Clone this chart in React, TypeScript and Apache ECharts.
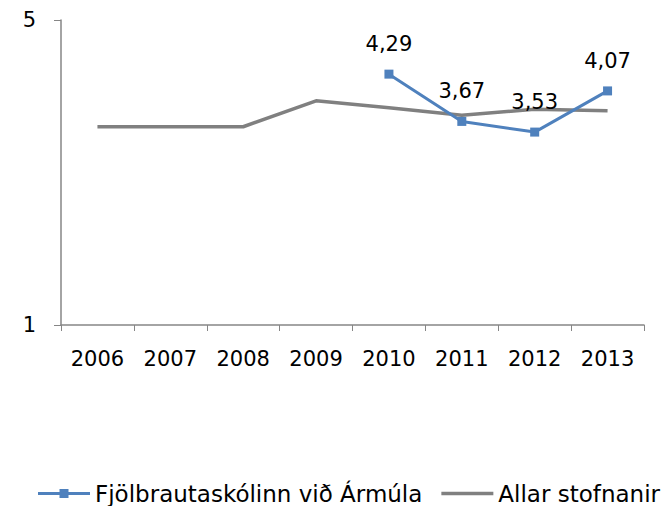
import React, { useEffect, useRef } from "react";
import * as echarts from "echarts";

const categories = ["2006", "2007", "2008", "2009", "2010", "2011", "2012", "2013"];
const schoolName = "Fjölbrautaskólinn við Ármúla";
const allName = "Allar stofnanir";
const schoolValues: (number | null)[] = [null, null, null, null, 4.29, 3.67, 3.53, 4.07];
const allValues: number[] = [3.6, 3.6, 3.6, 3.94, 3.85, 3.75, 3.83, 3.81];
const yMin = 1;
const yMax = 5;

const FONT = "'DejaVu Sans', 'Open Sans', sans-serif";

const blueIcon = "path://M0,0 L0,0 M0,3.5 L52,3.5 L52,6.5 L0,6.5 Z M21.5,0.5 L30.5,0.5 L30.5,9.5 L21.5,9.5 Z M0,10 L0,10";
const grayIcon = "path://M0,0 L0,0 M0,3.2 L52,3.2 L52,6.8 L0,6.8 Z M0,10 L0,10";

export default function App() {
  const ref = useRef<HTMLDivElement>(null);
  useEffect(() => {
    if (!ref.current) return;
    const chart = echarts.init(ref.current, undefined, { renderer: "svg" });
    chart.setOption({
      animation: false,
      backgroundColor: "#ffffff",
      textStyle: { fontFamily: FONT },
      grid: { left: 61, right: 25, top: 20, bottom: 181, containLabel: false },
      legend: {
        bottom: -4,
        left: 33,
        itemWidth: 52,
        itemHeight: 10,
        itemGap: 19,
        textStyle: { fontSize: 23, color: "#000", fontFamily: FONT },
        data: [
          { name: schoolName, icon: blueIcon, itemStyle: { color: "#4F81BD" } },
          { name: allName, icon: grayIcon, itemStyle: { color: "#808080" } },
        ],
      },
      xAxis: {
        type: "category",
        data: categories,
        boundaryGap: true,
        axisLine: { lineStyle: { color: "#868686", width: 1.5 } },
        axisTick: { show: true, length: 6, alignWithLabel: false, lineStyle: { color: "#868686" } },
        axisLabel: { color: "#000", fontSize: 21, margin: 23, fontFamily: FONT },
        splitLine: { show: false },
      },
      yAxis: {
        type: "value",
        min: yMin,
        max: yMax,
        interval: 4,
        axisLine: { show: true, lineStyle: { color: "#868686", width: 1.5 } },
        axisTick: { show: true, length: 7, lineStyle: { color: "#868686" } },
        axisLabel: { color: "#000", fontSize: 21, margin: 25, fontFamily: FONT },
        splitLine: { show: false },
      },
      series: [
        {
          name: schoolName,
          type: "line",
          data: schoolValues,
          symbol: "rect",
          symbolSize: 9,
          itemStyle: { color: "#4F81BD" },
          lineStyle: { color: "#4F81BD", width: 3 },
          label: {
            show: true,
            position: "top",
            distance: 15,
            fontSize: 21,
            color: "#000",
            fontFamily: FONT,
            formatter: (p: any) => Number(p.value).toFixed(2).replace(".", ","),
          },
          z: 3,
        },
        {
          name: allName,
          type: "line",
          data: allValues,
          symbol: "none",
          itemStyle: { color: "#808080" },
          lineStyle: { color: "#808080", width: 3.5 },
          z: 2,
        },
      ],
    });
    return () => chart.dispose();
  }, []);
  return <div ref={ref} style={{ width: 669, height: 506, position: "absolute", left: 0, top: 0 }} />;
}
